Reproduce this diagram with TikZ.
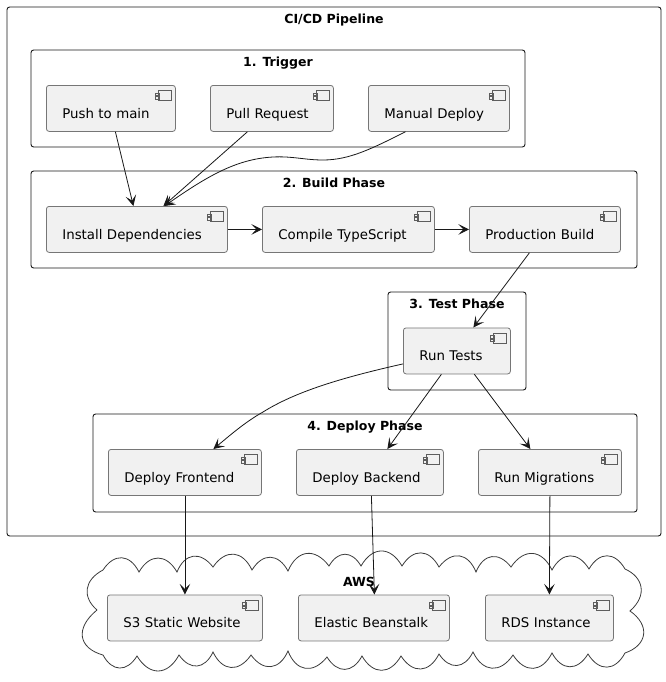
\documentclass[tikz,border=0pt]{standalone}
\usepackage{fontspec}
\setmainfont{DejaVu Sans}
\usepackage{xcolor}
\definecolor{compfill}{RGB}{241,241,241}
\definecolor{compline}{RGB}{118,118,118}
\definecolor{darkline}{RGB}{24,24,24}
\usetikzlibrary{arrows.meta}
\newcommand{\unitpx}{0.75pt}
\tikzset{
    frame/.style={draw=darkline, line width=0.7pt, rounded corners=2pt},
    cloudline/.style={draw=darkline!85, line width=0.6pt},
    scallop/.style={bend left=60, looseness=1.45},
    title/.style={anchor=base, font=\bfseries\fontsize{9.4}{12}\selectfont, inner sep=0pt},
    comp/.style={
        anchor=north west, draw=compline, fill=compfill, line width=0.6pt, rounded corners=2pt,
        inner sep=0pt, text width=#1*\unitpx, align=left, text height=24.75pt, text depth=9.75pt,
        font=\fontsize{10}{12}\selectfont, text=black,
        execute at begin node={\hspace*{12pt}},
        path picture={
            \draw[darkline!70, line width=0.35pt, fill=compfill, sharp corners]
                ([shift={(-17,5)}]path picture bounding box.north east) rectangle ++(12.5,10)
                ([shift={(-20,7.5)}]path picture bounding box.north east) rectangle ++(4,2.5)
                ([shift={(-20,11)}]path picture bounding box.north east) rectangle ++(4,2.5);
        }
    },
    flow/.style={-{Stealth[length=8pt, width=8pt, inset=3.8pt]}, draw=darkline, line width=0.6pt}
}
\begin{document}
\begin{tikzpicture}[x=\unitpx, y=-\unitpx]
      \useasboundingbox (0,0) rectangle (666,682);

      \newcommand\cluster[6]{
        \draw[frame] (#2,#3) rectangle (#4,#5);
        \node[title] (#1) at ({(#2+#4)/2},{#3+16}) {#6};
      }

      % clusters
      \cluster{pipeline}{7}{7}{661}{536}{CI/CD Pipeline}
      \cluster{trigger}{31}{50}{525}{147}{1. Trigger}
      \cluster{build}{31}{171}{637}{268}{2. Build Phase}
      \cluster{test}{388}{292}{526}{390}{3. Test Phase}
      \cluster{deploy}{93}{414}{637}{512}{4. Deploy Phase}

      % cloud
      \draw[cloudline] (97,610)
        .. controls (82,597) and (84,580) .. (103,570)
        to[scallop] (139,572) to[scallop] (177,572) to[scallop] (213,567)
        to[scallop] (252,570) to[scallop] (288,571) to[scallop] (329,566)
        to[scallop] (361,566) to[scallop] (402,566) to[scallop] (439,567)
        to[scallop] (476,572) to[scallop] (511,567) to[scallop] (552,570)
        to[scallop] (589,569) to[scallop] (625,569)
        .. controls (643,577) and (648,595) .. (630,611)
        .. controls (650,625) and (648,645) .. (625,653)
        to[scallop] (588,654) to[scallop] (552,653) to[scallop] (513,655)
        to[scallop] (473,652) to[scallop] (439,654) to[scallop] (401,656)
        to[scallop] (362,656) to[scallop] (327,657) to[scallop] (288,651)
        to[scallop] (251,655) to[scallop] (213,652) to[scallop] (179,655)
        to[scallop] (137,656) to[scallop] (103,655)
        .. controls (78,648) and (75,628) .. (97,610);
      \node[title] (aws) at (359,586) {AWS};

      % components
      \node[comp=129] (push) at (46,85) {Push to main};
      \node[comp=123] (pull) at (210,85) {Pull Request};
      \node[comp=141] (manual) at (368,85) {Manual Deploy};
      \node[comp=181] (install) at (46,206) {Install Dependencies};
      \node[comp=172] (compile) at (262,206) {Compile TypeScript};
      \node[comp=151] (production) at (469,206) {Production Build};
      \node[comp=107] (runtests) at (403,327.5) {Run Tests};
      \node[comp=153] (frontend) at (108,449) {Deploy Frontend};
      \node[comp=147] (backend) at (296,449) {Deploy Backend};
      \node[comp=143] (migrations) at (478,449) {Run Migrations};
      \node[comp=155] (s3) at (107,594.5) {S3 Static Website};
      \node[comp=151] (beanstalk) at (298,594.5) {Elastic Beanstalk};
      \node[comp=128] (rds) at (485,594.5) {RDS Instance};

      % connectors
      \draw[flow] ([shift={(4.5,0)}]push.south) -- ([shift={(-3.5,0)}]install.north);
      \draw[flow] ([shift={(-24.5,0)}]pull.south) -- ([shift={(26.5,0)}]install.north);
      \draw[flow] ([shift={(-33.5,0)}]manual.south) .. controls (373,148) and (350,160) .. (323,160)
        .. controls (305,160) and (292,156) .. (273,157)
        .. controls (235,159) and (205,178) .. ([shift={(27.5,0)}]install.north);
      \draw[flow] (install.east) -- (compile.west);
      \draw[flow] (compile.east) -- (production.west);
      \draw[flow] ([shift={(-15.5,0)}]production.south) -- ([shift={(16.5,0)}]runtests.north);
      \draw[flow] ([shift={(0,13)}]runtests.west) .. controls (340,378) and (295,392) .. (263,412)
        .. controls (245,422) and (228,437) .. ([shift={(28.5,0)}]frontend.north);
      \draw[flow] ([shift={(-15.5,0)}]runtests.south) -- ([shift={(17.5,0)}]backend.north);
      \draw[flow] ([shift={(17.5,0)}]runtests.south) -- ([shift={(-19.5,0)}]migrations.north);
      \draw[flow] (frontend.south) -- (s3.north);
      \draw[flow] ([shift={(1.5,0)}]backend.south) -- ([shift={(0.5,0)}]beanstalk.north);
      \draw[flow] (migrations.south) -- (rds.north);
\end{tikzpicture}
\end{document}
